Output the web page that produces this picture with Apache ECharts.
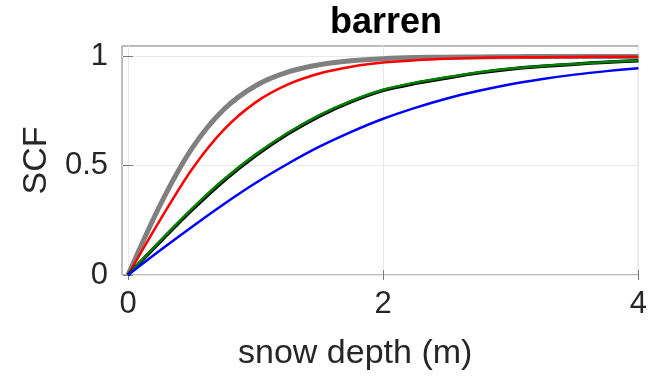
<!DOCTYPE html>
<html>
<head>
<meta charset="utf-8">
<script src="https://cdn.jsdelivr.net/npm/echarts@6/dist/echarts.min.js"></script>
<style>html,body{margin:0;padding:0;background:#fff;}#c{width:650px;height:381px;}</style>
</head>
<body>
<div id="c"></div>
<script>
const depth = [0, 0.25, 0.5, 0.75, 1, 1.25, 1.5, 1.75, 2, 2.25, 2.5, 2.75, 3, 3.25, 3.5, 3.75, 4];
const grayCurve  = [0, 0.318, 0.578, 0.757, 0.866, 0.928, 0.962, 0.980, 0.990, 0.995, 0.997, 0.998, 0.999, 1.000, 1.000, 1.000, 1.000];
const redCurve   = [0, 0.250, 0.483, 0.664, 0.790, 0.871, 0.922, 0.953, 0.972, 0.983, 0.990, 0.994, 0.996, 0.997, 0.998, 0.999, 0.999];
const blackCurve = [0, 0.151, 0.297, 0.431, 0.546, 0.645, 0.727, 0.793, 0.845, 0.877, 0.902, 0.925, 0.943, 0.955, 0.965, 0.974, 0.981];
const greenCurve = [0, 0.155, 0.303, 0.437, 0.552, 0.650, 0.732, 0.797, 0.848, 0.880, 0.905, 0.928, 0.945, 0.957, 0.966, 0.975, 0.982];
const blueCurve  = [0, 0.112, 0.220, 0.324, 0.421, 0.508, 0.587, 0.655, 0.715, 0.765, 0.808, 0.843, 0.873, 0.897, 0.917, 0.933, 0.946];
const xTicks = [0, 2, 4];
const yTicks = [0, 0.5, 1];
const titleText = 'barren';
const xName = 'snow depth (m)';
const yName = 'SCF';

function pts(ys) { return depth.map((x, i) => [x, ys[i]]); }
const font = 'Liberation Sans, Arial, Helvetica, sans-serif';
const axisColor = '#262626';
const gridColor = '#e8e8e8';

const chart = echarts.init(document.getElementById('c'), null, {renderer: 'canvas'});
function line(name, ys, color, width, z) {
  return {name, type: 'line', data: pts(ys), smooth: 0.3, showSymbol: false,
    lineStyle: {color, width}, z, xAxisIndex: 0, yAxisIndex: 0};
}
chart.setOption({
  animation: false,
  backgroundColor: '#fff',
  title: {text: titleText, left: 381, top: 0, textAlign: 'center',
    textStyle: {fontFamily: font, fontSize: 36, fontWeight: 'bold', color: '#000'}},
  grid: {left: 122, right: 10, top: 46, bottom: 106, show: true, borderColor: '#7a7a7a', borderWidth: 1, containLabel: false},
  xAxis: [{
    type: 'value', min: -0.047, max: 4,
    name: xName, nameLocation: 'middle', nameGap: 62,
    nameTextStyle: {fontFamily: font, fontSize: 34, color: axisColor, padding: [0, 50, 0, 0]},
    axisLine: {show: false},
    axisTick: {show: true, inside: true, length: 5, customValues: xTicks, lineStyle: {color: '#7a7a7a'}},
    axisLabel: {customValues: xTicks, margin: 14, fontFamily: font, fontSize: 31, color: axisColor},
    splitLine: {show: true, lineStyle: {color: gridColor, width: 1}}
  }, {
    type: 'value', min: -0.047, max: 4, position: 'top',
    axisLine: {show: false},
    axisTick: {show: true, inside: true, length: 5, customValues: xTicks, lineStyle: {color: '#7a7a7a'}},
    axisLabel: {show: false, customValues: xTicks},
    splitLine: {show: false}
  }],
  yAxis: [{
    type: 'value', min: 0, max: 1.048,
    name: yName, nameLocation: 'middle', nameGap: 68, nameRotate: 90,
    nameTextStyle: {fontFamily: font, fontSize: 34, color: axisColor},
    axisLine: {show: false},
    axisTick: {show: true, inside: true, length: 5, customValues: yTicks, lineStyle: {color: '#7a7a7a'}},
    axisLabel: {customValues: yTicks, margin: 14, fontFamily: font, fontSize: 31, color: axisColor,
      formatter: v => String(v)},
    splitLine: {show: true, lineStyle: {color: gridColor, width: 1}}
  }, {
    type: 'value', min: 0, max: 1.048, position: 'right',
    axisLine: {show: false},
    axisTick: {show: true, inside: true, length: 5, customValues: yTicks, lineStyle: {color: '#7a7a7a'}},
    axisLabel: {show: false, customValues: yTicks},
    splitLine: {show: false}
  }],
  series: [
    line('gray', grayCurve, '#808080', 5, 2),
    line('red', redCurve, '#ff0000', 2.5, 3),
    line('black', blackCurve, '#000000', 3.5, 4),
    line('green', greenCurve, '#007f00', 2.5, 5),
    line('blue', blueCurve, '#0000ff', 2.5, 6)
  ]
});
</script>
</body>
</html>
